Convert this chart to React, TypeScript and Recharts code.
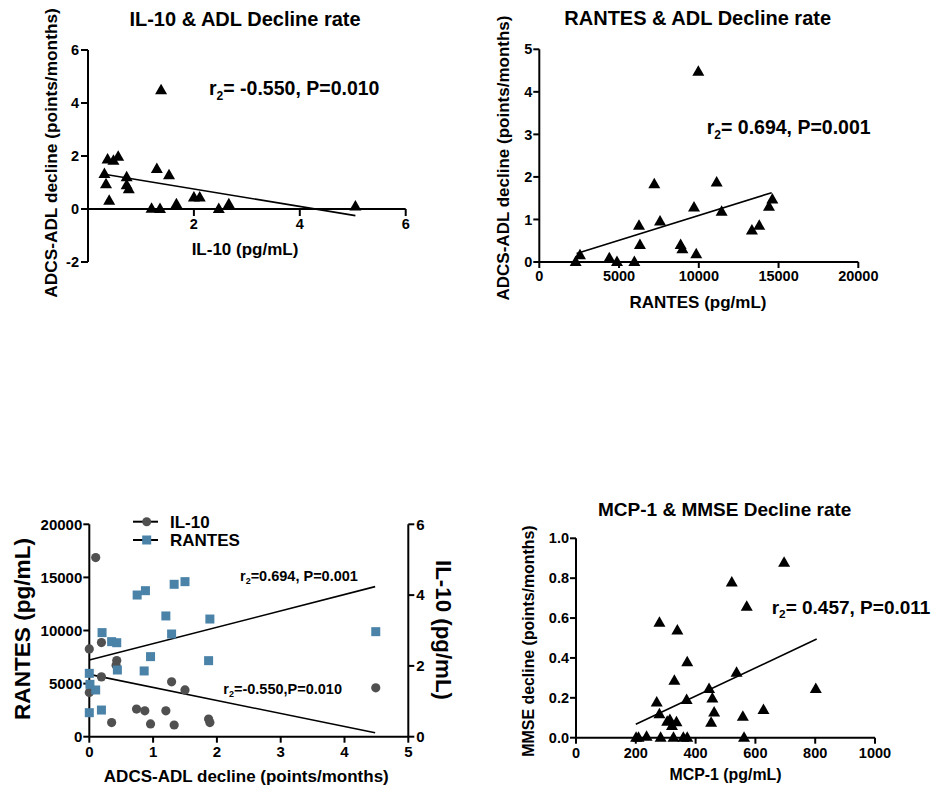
import React from 'react';
import { ScatterChart, Scatter, XAxis, YAxis, ReferenceLine } from 'recharts';

// ---------- Data ----------
// Panel 1: IL-10 vs ADL decline
const il10Values = [1.38, 0.31, 0.34, 0.40, 0.37, 0.48, 0.57, 0.73, 0.73, 0.77, 1.30, 1.53, 1.20, 1.36, 1.67, 2.00, 2.11, 2.47, 2.66, 5.05];
const adlForIl10 = [4.48, 1.32, 0.93, 0.31, 1.87, 1.82, 1.97, 1.20, 0.90, 0.75, 1.51, 1.27, 0.01, 0.0, 0.18, 0.43, 0.43, 0.0, 0.18, 0.09];
const il10FitX = [0.31, 5.05];
const il10FitY = [1.31, -0.25];
const p1XTicks = [2, 4, 6];
const p1YTicks = [-2, 0, 2, 4, 6];

// Panel 2: RANTES vs ADL decline
const rantesValues = [9970, 7210, 11120, 9700, 11430, 14610, 14400, 13790, 13330, 7570, 6250, 6310, 8860, 8970, 9840, 2550, 2280, 4390, 4870, 5960];
const adlForRantes = [4.47, 1.83, 1.87, 1.28, 1.18, 1.47, 1.30, 0.85, 0.74, 0.95, 0.85, 0.40, 0.40, 0.30, 0.18, 0.16, 0.0, 0.09, 0.0, 0.0];
const rantesFitX = [2340, 14570];
const rantesFitY = [0.2, 1.63];
const p2XTicks = [0, 5000, 10000, 15000, 20000];
const p2YTicks = [0, 1, 2, 3, 4, 5];

// Panel 3: dual axis, ADL decline on x
const dualAdlIl10 = [0.10, 0.0, 0.19, 0.43, 0.42, 0.19, 0.0, 0.35, 0.74, 0.87, 0.96, 1.20, 1.29, 1.33, 1.50, 1.87, 1.89, 4.49];
const dualIl10 = [5.06, 2.48, 2.66, 2.15, 2.02, 1.69, 1.25, 0.40, 0.78, 0.73, 0.36, 0.73, 1.55, 0.33, 1.32, 0.50, 0.40, 1.38];
const dualAdlRantes = [0.0, 0.01, 0.10, 0.0, 0.19, 0.20, 0.35, 0.43, 0.44, 0.96, 0.86, 0.75, 0.88, 1.20, 1.29, 1.33, 1.50, 1.89, 1.87, 4.49];
const dualRantes = [5965, 4930, 4400, 2260, 2510, 9800, 8950, 8850, 6280, 7540, 6190, 13340, 13750, 11370, 9670, 14350, 14600, 11080, 7160, 9890];
const dualRantesFitX = [0, 4.48];
const dualRantesFitY = [7220, 14130];
const dualIl10FitX = [0, 4.48];
const dualIl10FitY = [1.76, 0.11];
const p3XTicks = [0, 1, 2, 3, 4, 5];
const p3LeftTicks = [0, 5000, 10000, 15000, 20000];
const p3RightTicks = [0, 2, 4, 6];

// Panel 4: MCP-1 vs MMSE decline
const mcp1Values = [696, 521, 571, 279, 339, 372, 329, 537, 445, 802, 270, 370, 456, 627, 462, 279, 558, 314, 336, 321, 452, 305, 201, 209, 236, 283, 326, 359, 372, 562];
const mmseValues = [0.878, 0.778, 0.657, 0.577, 0.537, 0.378, 0.286, 0.326, 0.244, 0.244, 0.177, 0.189, 0.196, 0.139, 0.127, 0.117, 0.105, 0.089, 0.077, 0.059, 0.075, 0.08, 0, 0, 0.005, 0, 0, 0, 0, 0];
const mcpFitX = [200, 805];
const mcpFitY = [0.067, 0.495];
const p4XTicks = [0, 200, 400, 600, 800, 1000];
const p4YTicks = [0, 0.2, 0.4, 0.6, 0.8, 1.0];

// ---------- helpers ----------
const FONT = '"Liberation Sans", Arial, Helvetica, sans-serif';
const toPoints = (xs: number[], ys: number[]) => xs.map((x, i) => ({ x, y: ys[i] }));
const seg = (xs: number[], ys: number[]) => [{ x: xs[0], y: ys[0] }, { x: xs[1], y: ys[1] }];

const axisLine = { stroke: '#000', strokeWidth: 2 };
const tickLine = { stroke: '#000', strokeWidth: 2 };
const tickStyle = (size: number) => ({ fill: '#000', fontSize: size, fontWeight: 700, fontFamily: FONT });

const Triangle = (props: any) => {
  const { cx, cy } = props;
  if (cx == null || cy == null) return null;
  return <path d={`M${cx},${cy - 6.5} L${cx + 6},${cy + 4} L${cx - 6},${cy + 4} Z`} fill="#000" />;
};
const Dot = (props: any) => {
  const { cx, cy } = props;
  if (cx == null || cy == null) return null;
  return <circle cx={cx} cy={cy} r={4.6} fill="#505050" />;
};
const Square = (props: any) => {
  const { cx, cy } = props;
  if (cx == null || cy == null) return null;
  return <rect x={cx - 4.5} y={cy - 4.5} width={9} height={9} fill="#4a82a8" />;
};

// X tick that sits on the y=0 line (panel 1) instead of the plot bottom
const ShiftedXTick = (props: any) => {
  const { x, y, payload, shift } = props;
  const y0 = y - shift;
  return (
    <g>
      <line x1={x} y1={y0} x2={x} y2={y0 + 7} stroke="#000" strokeWidth={2} />
      <text x={x} y={y0 + 10} dy="0.71em" textAnchor="middle" fill="#000" fontSize={14.5} fontWeight={700} fontFamily={FONT}>
        {payload.value}
      </text>
    </g>
  );
};

const Label = ({ x, y, text, size, rotate = 0 }: { x: number; y: number; text: string; size: number; rotate?: number }) => (
  <div
    style={{
      position: 'absolute',
      left: x,
      top: y,
      transform: `translate(-50%, -50%) rotate(${rotate}deg)`,
      whiteSpace: 'nowrap',
      fontSize: size,
      fontWeight: 700,
      lineHeight: 1,
      color: '#000',
    }}
  >
    {text}
  </div>
);

const Stat = ({ x, y, r, rest, size }: { x: number; y: number; r: string; rest: string; size: number }) => (
  <div
    style={{
      position: 'absolute',
      left: x,
      top: y,
      transform: 'translateY(-50%)',
      whiteSpace: 'nowrap',
      fontSize: size,
      fontWeight: 700,
      lineHeight: 1,
      color: '#000',
    }}
  >
    {r}
    <span style={{ fontSize: '0.62em', position: 'relative', top: '0.38em' }}>2</span>
    {rest}
  </div>
);

export default function App() {
  const p1Data = toPoints(il10Values, adlForIl10);
  const p2Data = toPoints(rantesValues, adlForRantes);
  const p3Il10 = toPoints(dualAdlIl10, dualIl10);
  const p3Rantes = toPoints(dualAdlRantes, dualRantes);
  const p4Data = toPoints(mcp1Values, mmseValues);

  // panel 1 plot height and y-domain give the offset of the y=0 line from the bottom
  const p1PlotH = 212;
  const p1Shift = (p1PlotH * (0 - -2)) / (6 - -2);

  return (
    <div style={{ position: 'absolute', left: 0, top: 0, width: 938, height: 789, background: '#fff', fontFamily: FONT, overflow: 'hidden' }}>
      {/* Panel 1 */}
      <div style={{ position: 'absolute', left: 0, top: 0 }}>
        <ScatterChart width={469} height={300} margin={{ top: 50, right: 63.3, left: 28, bottom: 28 }}>
          <XAxis
            type="number"
            dataKey="x"
            domain={[0, 6]}
            ticks={p1XTicks}
            axisLine={false}
            tickLine={false}
            tickSize={0}
            tickMargin={0}
            height={10}
            tick={(p: any) => <ShiftedXTick {...p} shift={p1Shift} />}
          />
          <YAxis
            type="number"
            dataKey="y"
            domain={[-2, 6]}
            ticks={p1YTicks}
            width={60}
            axisLine={axisLine}
            tickLine={tickLine}
            tickSize={7}
            tickMargin={2}
            tick={tickStyle(14.5)}
          />
          <ReferenceLine y={0} stroke="#000" strokeWidth={2} />
          <ReferenceLine segment={seg(il10FitX, il10FitY)} stroke="#000" strokeWidth={1.6} ifOverflow="visible" />
          <Scatter data={p1Data} shape={Triangle} isAnimationActive={false} />
        </ScatterChart>
      </div>

      {/* Panel 2 */}
      <div style={{ position: 'absolute', left: 469, top: 0 }}>
        <ScatterChart width={469} height={320} margin={{ top: 49.3, right: 79.7, left: 20.3, bottom: 28 }}>
          <XAxis
            type="number"
            dataKey="x"
            domain={[0, 20000]}
            ticks={p2XTicks}
            height={30}
            axisLine={axisLine}
            tickLine={tickLine}
            tickSize={6}
            tickMargin={3}
            tick={tickStyle(14.5)}
          />
          <YAxis
            type="number"
            dataKey="y"
            domain={[0, 5]}
            ticks={p2YTicks}
            width={50}
            axisLine={axisLine}
            tickLine={tickLine}
            tickSize={6}
            tickMargin={1}
            tick={tickStyle(14.5)}
          />
          <ReferenceLine segment={seg(rantesFitX, rantesFitY)} stroke="#000" strokeWidth={1.6} ifOverflow="visible" />
          <Scatter data={p2Data} shape={Triangle} isAnimationActive={false} />
        </ScatterChart>
      </div>

      {/* Panel 3 */}
      <div style={{ position: 'absolute', left: 0, top: 490 }}>
        <ScatterChart width={469} height={299} margin={{ top: 34.3, right: 20.7, left: 29.3, bottom: 22.3 }}>
          <XAxis
            type="number"
            dataKey="x"
            domain={[0, 5]}
            ticks={p3XTicks}
            height={30}
            axisLine={axisLine}
            tickLine={tickLine}
            tickSize={6}
            tickMargin={4}
            tick={tickStyle(15)}
          />
          <YAxis
            yAxisId="left"
            type="number"
            dataKey="y"
            domain={[0, 20000]}
            ticks={p3LeftTicks}
            width={60}
            axisLine={axisLine}
            tickLine={tickLine}
            tickSize={6}
            tickMargin={1}
            tick={tickStyle(15)}
          />
          <YAxis
            yAxisId="right"
            orientation="right"
            type="number"
            dataKey="y"
            domain={[0, 6]}
            ticks={p3RightTicks}
            width={40}
            axisLine={axisLine}
            tickLine={tickLine}
            tickSize={6}
            tickMargin={2}
            tick={tickStyle(15)}
          />
          <ReferenceLine yAxisId="left" segment={seg(dualRantesFitX, dualRantesFitY)} stroke="#000" strokeWidth={1.6} ifOverflow="visible" />
          <ReferenceLine yAxisId="right" segment={seg(dualIl10FitX, dualIl10FitY)} stroke="#000" strokeWidth={1.6} ifOverflow="visible" />
          <Scatter yAxisId="right" data={p3Il10} shape={Dot} isAnimationActive={false} />
          <Scatter yAxisId="left" data={p3Rantes} shape={Square} isAnimationActive={false} />
        </ScatterChart>
      </div>

      {/* Panel 4 */}
      <div style={{ position: 'absolute', left: 469, top: 490 }}>
        <ScatterChart width={469} height={299} margin={{ top: 48.3, right: 63, left: 57, bottom: 21.3 }}>
          <XAxis
            type="number"
            dataKey="x"
            domain={[0, 1000]}
            ticks={p4XTicks}
            height={30}
            axisLine={axisLine}
            tickLine={tickLine}
            tickSize={6}
            tickMargin={4}
            tick={tickStyle(14.5)}
          />
          <YAxis
            type="number"
            dataKey="y"
            domain={[0, 1]}
            ticks={p4YTicks}
            tickFormatter={(v: number) => v.toFixed(1)}
            width={50}
            axisLine={axisLine}
            tickLine={tickLine}
            tickSize={6}
            tickMargin={1}
            tick={tickStyle(14.5)}
          />
          <ReferenceLine segment={seg(mcpFitX, mcpFitY)} stroke="#000" strokeWidth={1.6} ifOverflow="visible" />
          <Scatter data={p4Data} shape={Triangle} isAnimationActive={false} />
        </ScatterChart>
      </div>

      {/* Panel 1 texts */}
      <Label x={245} y={18.5} text="IL-10 & ADL Decline rate" size={20} />
      <Label x={51.7} y={152.5} text="ADCS-ADL decline (points/months)" size={17.3} rotate={-90} />
      <Label x={245} y={249} text="IL-10 (pg/mL)" size={17} />
      <Stat x={209} y={89} r="r" rest="= -0.550, P=0.010" size={19.5} />

      {/* Panel 2 texts */}
      <Label x={697.7} y={18.3} text="RANTES & ADL Decline rate" size={20} />
      <Label x={503.3} y={157.5} text="ADCS-ADL decline (points/months)" size={17} rotate={-90} />
      <Label x={698} y={301.7} text="RANTES (pg/mL)" size={17} />
      <Stat x={706.7} y={128.3} r="r" rest="= 0.694, P=0.001" size={19.5} />

      {/* Panel 3 texts */}
      <Label x={22.5} y={629} text="RANTES (pg/mL)" size={22.6} rotate={-90} />
      <Label x={443} y={630} text="IL-10 (pg/mL)" size={22.3} rotate={90} />
      <Label x={246.3} y={776} text="ADCS-ADL decline (points/months)" size={17} />
      <Stat x={240} y={576} r="r" rest="=0.694, P=0.001" size={14.5} />
      <Stat x={223.3} y={689} r="r" rest="=-0.550,P=0.010" size={14.5} />
      {/* Panel 3 legend */}
      <svg style={{ position: 'absolute', left: 128, top: 510 }} width={40} height={40}>
        <line x1={5} y1={11.7} x2={30} y2={11.7} stroke="#000" strokeWidth={2} />
        <circle cx={18.7} cy={11.7} r={4.5} fill="#505050" />
        <line x1={5} y1={30} x2={30} y2={30} stroke="#000" strokeWidth={2} />
        <rect x={14.2} y={25.5} width={9} height={9} fill="#4a82a8" />
      </svg>
      <div style={{ position: 'absolute', left: 170, top: 521.7, transform: 'translateY(-50%)', fontSize: 17, fontWeight: 700, lineHeight: 1 }}>IL-10</div>
      <div style={{ position: 'absolute', left: 170, top: 540, transform: 'translateY(-50%)', fontSize: 17, fontWeight: 700, lineHeight: 1 }}>RANTES</div>

      {/* Panel 4 texts */}
      <Label x={724.7} y={509.3} text="MCP-1 & MMSE Decline rate" size={19} />
      <Label x={529.3} y={640.8} text="MMSE decline (points/months)" size={15.9} rotate={-90} />
      <Label x={725.5} y={775} text="MCP-1 (pg/mL)" size={15.9} />
      <Stat x={771.7} y={606.7} r="r" rest="= 0.457, P=0.011" size={19} />
    </div>
  );
}
